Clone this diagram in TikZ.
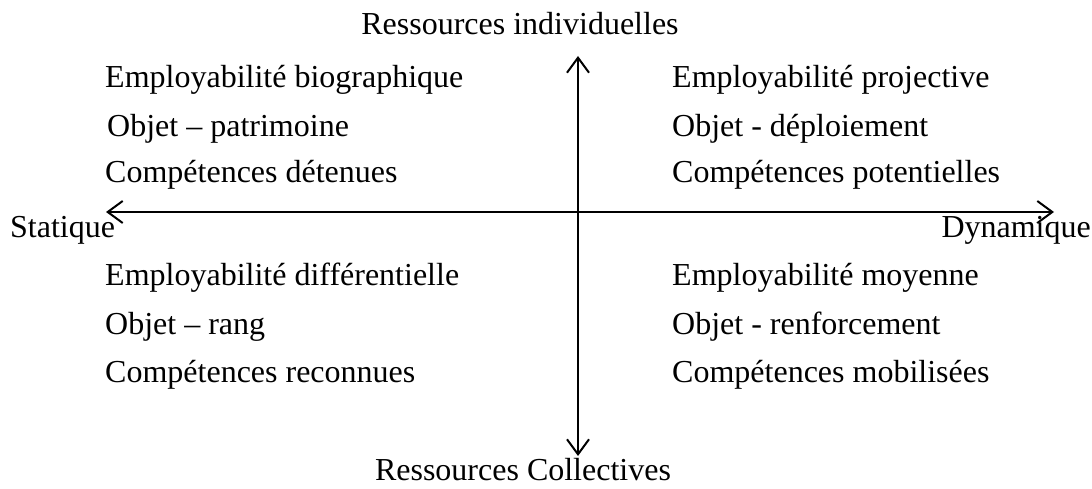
\documentclass[tikz,border=0pt]{standalone}
\usepackage{fontspec}
\setmainfont{Liberation Serif}
\usetikzlibrary{arrows.meta}

\tikzset{
	axe/.style={line width=2pt,-{Straight Barb[length=15pt,width=22pt,line width=2pt]}},
	item/.style={anchor=west,inner sep=0pt,font=\fontsize{32}{38}\selectfont},
	titre/.style={inner sep=0pt,font=\fontsize{32}{38}\selectfont}
}

\begin{document}
\begin{tikzpicture}[x=1pt,y=-1pt]
	\useasboundingbox (0,0) rectangle (1092,489);
	% axes
	\coordinate (centre) at (578,212);
	\coordinate (gauche) at (106,212);
	\coordinate (droite) at (1054,212);
	\coordinate (haut) at (578,56);
	\coordinate (bas) at (578,456);
	\draw[axe] (centre) -- (gauche);
	\draw[axe] (centre) -- (droite);
	\draw[axe] (centre) -- (haut);
	\draw[axe] (centre) -- (bas);
	% titres des axes
	\node[titre] (indiv) at (520,24) {Ressources individuelles};
	\node[titre] (collect) at (523,470) {Ressources Collectives};
	\node[titre,anchor=west] (statique) at (10,230) {Statique};
	\node[titre,anchor=east] (dynamique) at (1091,230) {Dynamique};
	% quadrants
	\foreach \T/\X/\Y [count=\Z] in {
		Employabilité biographique/105/80, Objet -- patrimoine/107/129,
		Compétences détenues/105/175,
		Employabilité projective/672/80, Objet - déploiement/672/129,
		Compétences potentielles/672/175,
		Employabilité différentielle/105/278, Objet -- rang/105/327,
		Compétences reconnues/105/375,
		Employabilité moyenne/672/278, Objet - renforcement/672/327,
		Compétences mobilisées/672/375}
	{\node[item] (q\Z) at (\X,\Y) {\T};}
\end{tikzpicture}
\end{document}
